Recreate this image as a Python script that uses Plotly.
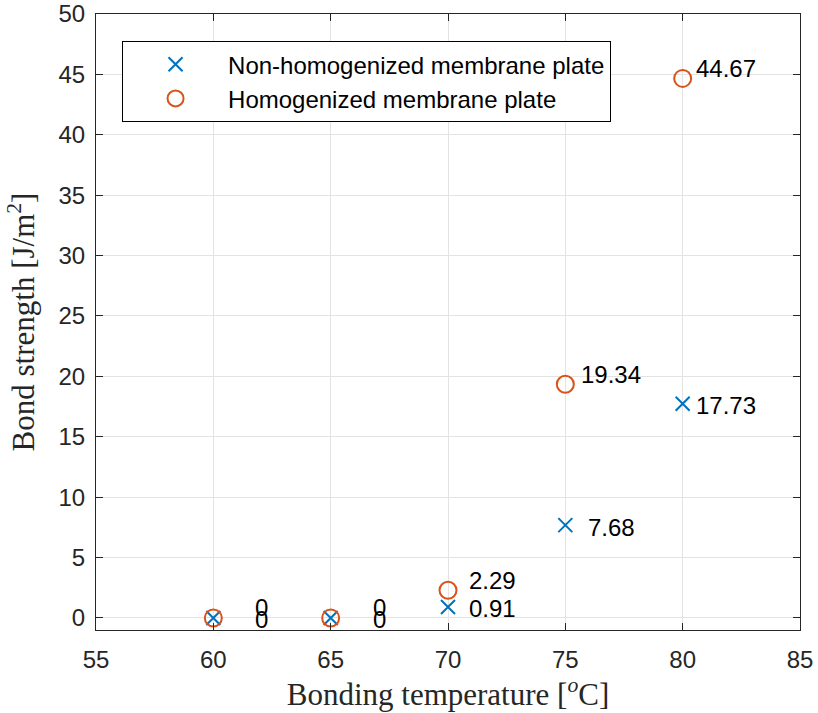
import plotly.graph_objects as go

temps = [60, 65, 70, 75, 80]
non_homog = [0, 0, 0.91, 7.68, 17.73]
homog = [0, 0, 2.29, 19.34, 44.67]
non_homog_labels = ["0", "0", "0.91", "7.68", "17.73"]
homog_labels = ["0", "0", "2.29", "19.34", "44.67"]
label_dx_non = [1.7, 1.7, 0.8, 0.9, 0.5]
label_dx_hom = [1.7, 1.7, 0.8, 0.6, 0.5]

BLUE = "#0072BD"
ORANGE = "#D95319"
AX = "#262626"
SANS = "Liberation Sans, Arial, Helvetica, sans-serif"
SERIF = "Liberation Serif, Times New Roman, serif"

fig = go.Figure()
fig.add_trace(go.Scatter(
    x=temps, y=non_homog, mode="markers", name="Non-homogenized membrane plate",
    marker=dict(symbol="x-thin", size=14, color=BLUE, line=dict(color=BLUE, width=2)),
))
fig.add_trace(go.Scatter(
    x=temps, y=homog, mode="markers", name="Homogenized membrane plate",
    marker=dict(symbol="circle-open", size=17, color=ORANGE, line=dict(color=ORANGE, width=2)),
))

annots = []
for xv, yv, t, dx in zip(temps, non_homog, non_homog_labels, label_dx_non):
    annots.append(dict(x=xv + dx, y=yv, text=t, showarrow=False, xanchor="left",
                       yanchor="middle", yshift=-2, font=dict(family=SANS, size=24, color="black")))
for xv, yv, t, dx in zip(temps, homog, homog_labels, label_dx_hom):
    annots.append(dict(x=xv + dx, y=yv, text=t, showarrow=False, xanchor="left",
                       yanchor="middle", yshift=10, font=dict(family=SANS, size=24, color="black")))

axis_common = dict(
    showline=True, linecolor=AX, linewidth=1.2, mirror="ticks",
    ticks="inside", ticklen=7, tickwidth=1, tickcolor=AX,
    showgrid=True, gridcolor="#e3e3e3", gridwidth=1, zeroline=False,
    tickfont=dict(family=SANS, size=24, color=AX), automargin=False,
)

fig.update_layout(
    width=818, height=713,
    margin=dict(l=96, r=18, t=14, b=83),
    paper_bgcolor="white", plot_bgcolor="white",
    showlegend=True,
    legend=dict(x=0.037, y=0.956, xanchor="left", yanchor="top",
                bgcolor="white", bordercolor="black", borderwidth=1,
                font=dict(family=SANS, size=24, color="black"),
                itemwidth=95, tracegroupgap=0),
    annotations=annots,
    xaxis=dict(range=[55, 85], tickvals=[55, 60, 65, 70, 75, 80, 85], **axis_common,
               ticklabelstandoff=8,
               title=dict(text="Bonding temperature [<sup><i>o</i></sup>C]",
                          font=dict(family=SERIF, size=31, color=AX), standoff=9)),
    yaxis=dict(range=[-1, 50], tickvals=[0, 5, 10, 15, 20, 25, 30, 35, 40, 45, 50], **axis_common,
               ticklabelstandoff=5,
               title=dict(text="Bond strength [J/m<sup>2</sup>]",
                          font=dict(family=SERIF, size=31, color=AX), standoff=14)),
)

fig.write_html("out.html")
